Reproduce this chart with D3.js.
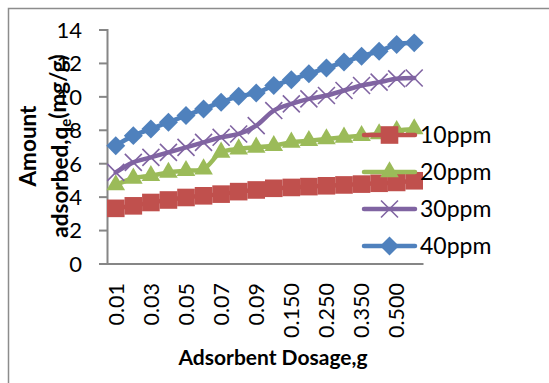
<!DOCTYPE html>
<html>
<head>
<meta charset="utf-8">
<script src="https://cdn.jsdelivr.net/npm/d3@7"></script>
<style>
  body { margin: 0; background: #ffffff; }
  text { font-family: Lato, "Open Sans", sans-serif; fill: #000; }
</style>
</head>
<body>
<svg id="chart" width="549" height="383"></svg>
<script>
// Adsorbent dosage categories (g)
const dosages = ["0.01", "0.02", "0.03", "0.04", "0.05", "0.06", "0.07", "0.08", "0.09",
                 "0.100", "0.150", "0.200", "0.250", "0.300", "0.350", "0.400", "0.500", "0.550"];
// Every other category carries a label on the axis
const shownDosages = ["0.01", "0.03", "0.05", "0.07", "0.09", "0.150", "0.250", "0.350", "0.500"];

// Amount adsorbed qe (mg/g) for each initial concentration
const ppm10 = [3.3, 3.45, 3.65, 3.8, 3.95, 4.05, 4.15, 4.3, 4.4, 4.5, 4.55, 4.6, 4.65, 4.7, 4.75, 4.8, 4.85, 4.95];
const ppm20 = [4.7, 5.1, 5.25, 5.45, 5.55, 5.65, 6.65, 6.85, 6.95, 7.05, 7.25, 7.35, 7.45, 7.55, 7.65, 7.75, 7.95, 8.05];
const ppm30 = [5.45, 6.05, 6.35, 6.65, 6.95, 7.25, 7.55, 7.75, 8.25, 9.15, 9.55, 9.85, 10.05, 10.35, 10.65, 10.85, 11.05, 11.1];
const ppm40 = [7.05, 7.65, 8.05, 8.45, 8.85, 9.25, 9.65, 10.0, 10.2, 10.65, 11.0, 11.35, 11.7, 12.05, 12.4, 12.7, 13.1, 13.2];

const seriesNames = ["10ppm", "20ppm", "30ppm", "40ppm"];
const yTicks = [0, 2, 4, 6, 8, 10, 12, 14];

const seriesData = [ppm10, ppm20, ppm30, ppm40];
const colors = ["#C0504D", "#9BBB59", "#8064A2", "#4F81BD"];
const markerKinds = ["square", "triangle", "x", "diamond"];

const svg = d3.select("#chart");
const axisColor = "#868686";

// chart frame
svg.append("rect")
  .attr("x", 8.5).attr("y", 8.5)
  .attr("width", 560).attr("height", 400)
  .attr("fill", "#fff").attr("stroke", "#8c8c8c").attr("stroke-width", 1.5);

const plot = { left: 107, right: 423, top: 29.5, bottom: 263.5 };

const x = d3.scaleBand().domain(dosages).range([plot.left, plot.right]);
const y = d3.scaleLinear().domain([0, 14]).range([plot.bottom, plot.top]);
const cx = d => x(d) + x.bandwidth() / 2;

// y axis
const yAxis = d3.axisLeft(y).tickValues(yTicks).tickSize(8).tickFormat(d3.format("d"));
const gy = svg.append("g").attr("transform", `translate(${plot.left},0)`).call(yAxis);
gy.select(".domain").attr("stroke", axisColor).attr("stroke-width", 2);
gy.selectAll(".tick line").attr("stroke", axisColor).attr("stroke-width", 2);
gy.selectAll(".tick text")
  .attr("x", -25).attr("dy", "0.36em")
  .style("font-family", "Lato, sans-serif").style("font-size", "22px").attr("fill", "#000");

// x axis
const xAxis = d3.axisBottom(x).tickSize(0)
  .tickFormat(d => shownDosages.includes(d) ? d : "");
const gx = svg.append("g").attr("transform", `translate(0,${plot.bottom})`).call(xAxis);
gx.select(".domain").attr("stroke", axisColor).attr("stroke-width", 2);
gx.selectAll(".tick text")
  .attr("transform", "rotate(-90)")
  .attr("x", -19.5).attr("y", 0).attr("dy", "0.36em")
  .attr("text-anchor", "end")
  .style("font-family", "Lato, sans-serif").style("font-size", "21.5px").attr("fill", "#000");

// marker shapes
function markerPath(kind) {
  if (kind === "square") return d3.symbol(d3.symbolSquare, 310)();
  if (kind === "diamond") return d3.symbol(d3.symbolSquare, 180)();
  if (kind === "triangle") return d3.symbol(d3.symbolTriangle, 150)();
  return d3.symbol(d3.symbolX, 190)();
}
function drawMarker(g, kind, color, px, py) {
  const m = g.append("path").attr("d", markerPath(kind));
  if (kind === "diamond") m.attr("transform", `translate(${px},${py}) rotate(45)`);
  else m.attr("transform", `translate(${px},${py})`);
  if (kind === "x") m.attr("fill", "none").attr("stroke", color).attr("stroke-width", 1.6);
  else m.attr("fill", color).attr("stroke", "none");
}

// series lines and markers
const line = d3.line()
  .x((d, i) => cx(dosages[i]))
  .y(d => y(d))
  .curve(d3.curveCatmullRom);

seriesData.forEach((vals, s) => {
  const g = svg.append("g");
  g.append("path").datum(vals)
    .attr("d", line)
    .attr("fill", "none").attr("stroke", colors[s])
    .attr("stroke-width", 4.5).attr("stroke-linecap", "round").attr("stroke-linejoin", "round");
  vals.forEach((v, i) => drawMarker(g, markerKinds[s], colors[s], cx(dosages[i]), y(v)));
});

// legend
const legendY = [135, 172, 209, 246];
seriesNames.forEach((name, s) => {
  const g = svg.append("g");
  g.append("line")
    .attr("x1", 364).attr("x2", 415)
    .attr("y1", legendY[s]).attr("y2", legendY[s])
    .attr("stroke", colors[s]).attr("stroke-width", 4.5).attr("stroke-linecap", "round");
  drawMarker(g, markerKinds[s], colors[s], 389.5, legendY[s]);
  g.append("text")
    .attr("x", 420).attr("y", legendY[s]).attr("dy", "0.36em")
    .style("font-size", "23px")
    .text(name);
});

// axis titles
svg.append("text")
  .attr("x", 273).attr("y", 357).attr("dy", "0.36em")
  .attr("text-anchor", "middle")
  .style("font-size", "21px").style("font-weight", "bold")
  .text("Adsorbent Dosage,g");

const yTitle = svg.append("text")
  .attr("transform", "translate(28,146) rotate(-90)")
  .attr("text-anchor", "middle")
  .style("font-size", "22.5px").style("font-weight", "bold");
yTitle.append("tspan").attr("x", 0).attr("dy", "0.36em").text("Amount");
const l2 = yTitle.append("tspan").attr("x", 0).attr("dy", "1.4em");
l2.append("tspan").text("adsorbed,q");
l2.append("tspan").attr("dy", "0.25em").style("font-size", "15px").text("e");
l2.append("tspan").attr("dy", "-0.25em").text("(mg/g)");
</script>
</body>
</html>
